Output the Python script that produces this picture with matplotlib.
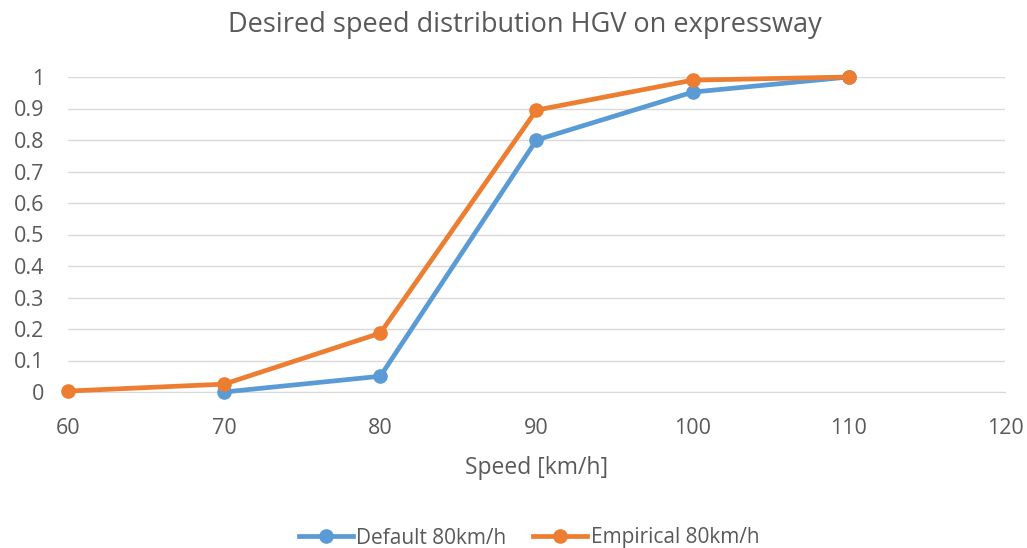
import matplotlib.pyplot as plt

BLUE = '#5B9BD5'
ORANGE = '#ED7D31'
TEXT = '#595959'
GRID = '#D9D9D9'

default_speed = [70, 80, 90, 100, 110]
default_cdf = [0.0, 0.05, 0.80, 0.952, 1.0]
empirical_speed = [60, 70, 80, 90, 100, 110]
empirical_cdf = [0.003, 0.025, 0.187, 0.895, 0.99, 1.0]
y_ticks = [0, 0.1, 0.2, 0.3, 0.4, 0.5, 0.6, 0.7, 0.8, 0.9, 1]
y_labels = ['0', '0.1', '0.2', '0.3', '0.4', '0.5', '0.6', '0.7', '0.8', '0.9', '1']

plt.rcParams['font.family'] = ['Open Sans', 'DejaVu Sans']

fig = plt.figure(figsize=(10.27, 5.48), dpi=100)
ax = fig.add_axes([68 / 1027, 1 - 392 / 548, (1005 - 68) / 1027, (392 - 77) / 548])

ax.plot(default_speed, default_cdf, color=BLUE, lw=3.4, marker='o', ms=9.5,
        label='Default 80km/h', clip_on=False, zorder=3)
ax.plot(empirical_speed, empirical_cdf, color=ORANGE, lw=3.4, marker='o', ms=9.5,
        label='Empirical 80km/h', clip_on=False, zorder=4)

ax.set_xlim(60, 120)
ax.set_ylim(0, 1)
ax.set_yticks(y_ticks)
ax.set_yticklabels(y_labels)
ax.set_xticks(range(60, 121, 10))
ax.grid(axis='y', color=GRID, lw=1)
ax.set_axisbelow(True)
for s in ['top', 'right', 'left']:
    ax.spines[s].set_visible(False)
ax.spines['bottom'].set_color(GRID)
ax.tick_params(length=0, colors=TEXT, labelsize=15.5)
ax.tick_params(axis='x', pad=19)
ax.tick_params(axis='y', pad=17)

fig.text(0.511, 1 - 25 / 548, 'Desired speed distribution HGV on expressway',
         color=TEXT, fontsize=19.5, ha='center', va='center')
ax.set_xlabel('Speed [km/h]', color=TEXT, fontsize=16.5, labelpad=12)

fig.legend(loc='center', bbox_to_anchor=(0.515, 1 - 538 / 548), ncol=2,
           frameon=False, fontsize=15, labelcolor=TEXT, handlelength=2.6,
           handletextpad=0.15, columnspacing=1.3)

fig.savefig('out.png', dpi=100)
